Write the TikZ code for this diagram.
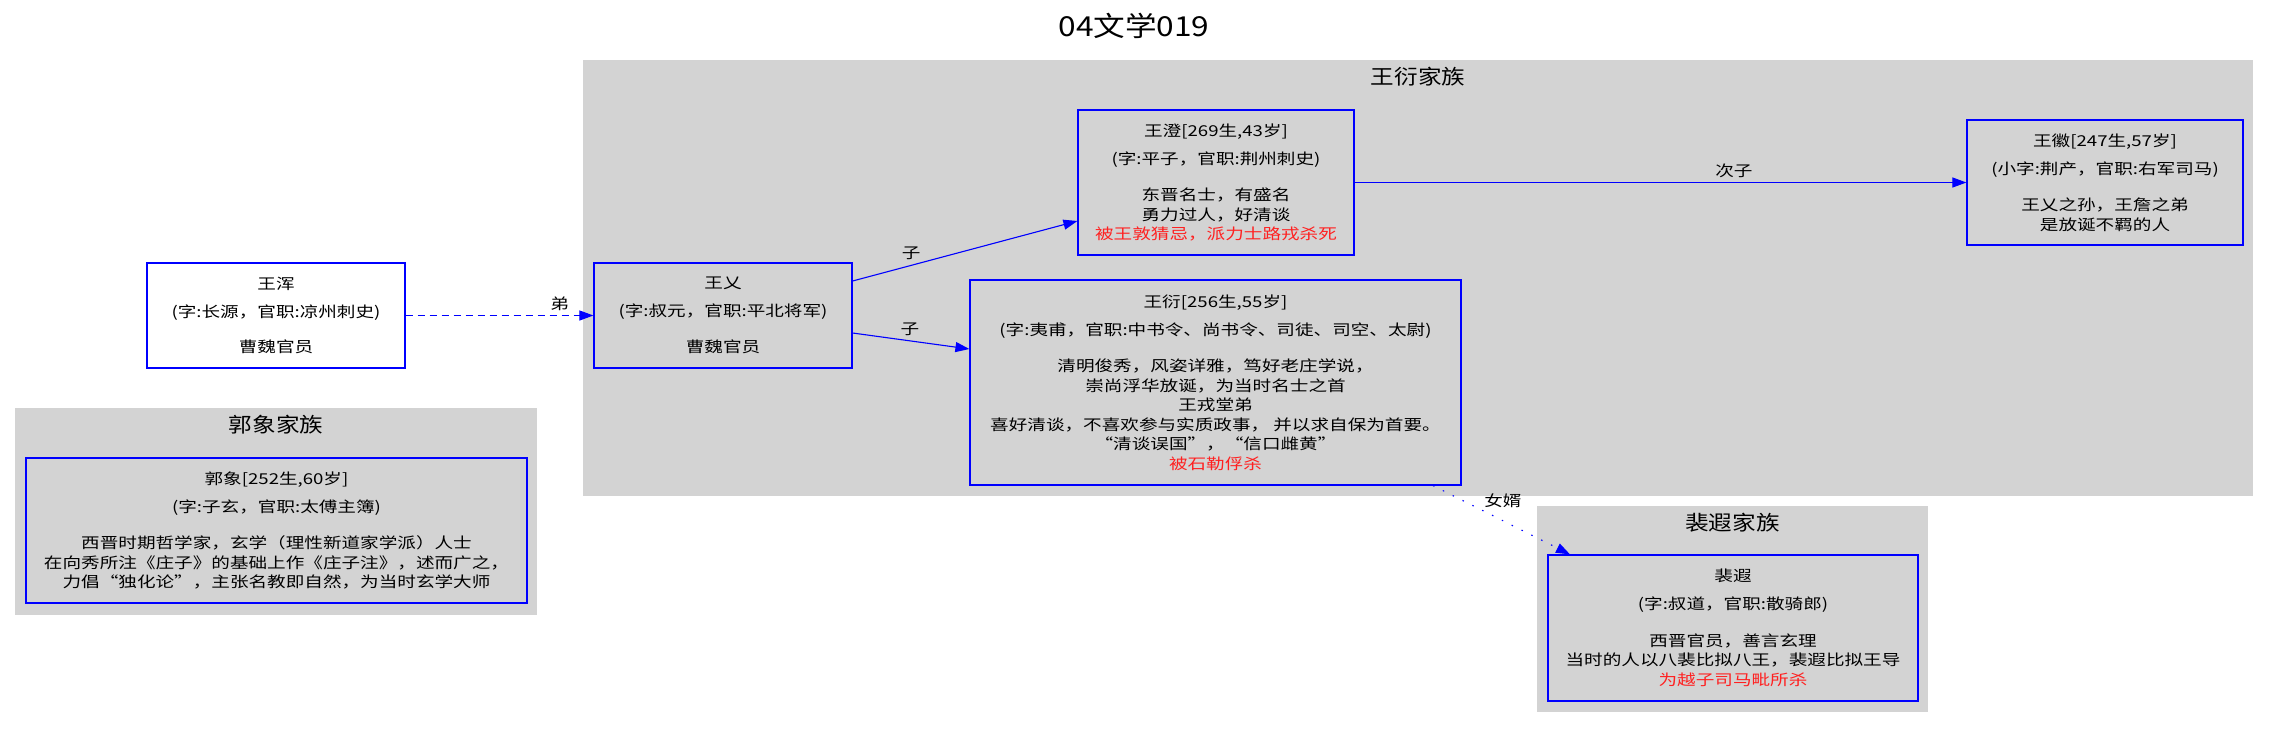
\documentclass[tikz,border=0pt]{standalone}
\usepackage{fontspec}
\usepackage{tikz}
\usetikzlibrary{positioning,arrows.meta}
\newfontfamily\cjk[FakeStretch=1.15]{Noto Sans CJK SC}
\newfontfamily\cjkbox[FakeStretch=1.24]{Noto Sans CJK SC}
\definecolor{clusterbg}{HTML}{D3D3D3}
\definecolor{edgeblue}{HTML}{0000FF}
\definecolor{deathred}{HTML}{FF2020}
\newcommand{\boxfont}{\cjkbox\fontsize{15}{19.5}\selectfont}
\newcommand{\dead}[1]{\textcolor{deathred}{#1}}
\tikzset{
  family/.style={fill=clusterbg, inner sep=0pt},
  familytitle/.style={font=\cjk\fontsize{20.5}{24}\selectfont, inner sep=0pt},
  person/.style={draw=edgeblue, line width=1.2pt, align=center, inner sep=0pt, font=\boxfont},
  rel/.style={draw=edgeblue, line width=1.1pt, -{Triangle[length=14pt,width=10pt]}},
  rellabel/.style={font=\boxfont, inner sep=1pt}
}
\begin{document}
\begin{tikzpicture}[x=1pt, y=-1pt]
  \useasboundingbox (0,0) rectangle (2269,728);

  \node[font=\cjk\fontsize{27.5}{32}\selectfont, inner sep=0pt] (title) at (1134,26) {04文学019};

  % family clusters
  \node[family, minimum width=1670pt, minimum height=436pt] (clwang) at (1418,278) {};
  \node[familytitle] (clwangt) at ([yshift=-17pt]clwang.north) {王衍家族};
  \node[family, minimum width=522pt, minimum height=207pt] (clguo) at (276,511.5) {};
  \node[familytitle] (clguot) at ([yshift=-17pt]clguo.north) {郭象家族};
  \node[family, minimum width=391pt, minimum height=206pt] (clpei) at (1732.5,609) {};
  \node[familytitle] (clpeit) at ([yshift=-17pt]clpei.north) {裴遐家族};

  % persons
  \node[person, fill=white, minimum width=258pt, minimum height=105pt] (wanghun) at (276,315.5)
    {王浑\\[8.5pt](字:长源，官职:凉州刺史)\\[15.5pt]曹魏官员};
  \node[person, minimum width=258pt, minimum height=105pt] (wangyi) at (723,315.5)
    {王乂\\[8.5pt](字:叔元，官职:平北将军)\\[16.5pt]曹魏官员};
  \node[person, minimum width=276pt, minimum height=145pt] (wangcheng) at (1216,182.5)
    {王澄[269生,43岁]\\[8.5pt](字:平子，官职:荆州刺史)\\[17pt]东晋名士，有盛名\\勇力过人，好清谈\\\dead{被王敦猜忌，派力士路戎杀死}};
  \node[person, minimum width=491pt, minimum height=205pt] (wangyan) at (1215.5,382.5)
    {王衍[256生,55岁]\\[8.5pt](字:夷甫，官职:中书令、尚书令、司徒、司空、太尉)\\[17pt]清明俊秀，风姿详雅，笃好老庄学说，\\崇尚浮华放诞，为当时名士之首\\王戎堂弟\\喜好清谈，不喜欢参与实质政事，\ 并以求自保为首要。\\“清谈误国”，“信口雌黄”\\\dead{被石勒俘杀}};
  \node[person, minimum width=276pt, minimum height=125pt] (wanghui) at (2105,182.5)
    {王徽[247生,57岁]\\[8.5pt](小字:荆产，官职:右军司马)\\[17pt]王乂之孙，王詹之弟\\是放诞不羁的人};
  \node[person, minimum width=501pt, minimum height=145pt] (guoxiang) at (276.5,530.5)
    {郭象[252生,60岁]\\[8.5pt](字:子玄，官职:太傅主簿)\\[17pt]西晋时期哲学家，玄学（理性新道家学派）人士\\在向秀所注《庄子》的基础上作《庄子注》，述而广之，\\力倡“独化论”，主张名教即自然，为当时玄学大师};
  \node[person, minimum width=370pt, minimum height=146pt] (peixia) at (1733,628)
    {裴遐\\[8.5pt](字:叔道，官职:散骑郎)\\[17pt]西晋官员，善言玄理\\当时的人以八裴比拟八王，裴遐比拟王导\\\dead{为越子司马毗所杀}};

  % relations
  \draw[rel, dash pattern=on 7pt off 5pt] (wanghun.east) -- (wangyi.west)
    node[rellabel, pos=0.82, above=3pt] (ldi) {弟};
  \draw[rel] ([yshift=34.5pt]wangyi.east) -- ([yshift=-38.5pt]wangcheng.west)
    node[rellabel, pos=0.26, above=4pt] (lzi1) {子};
  \draw[rel] ([yshift=-17.5pt]wangyi.east) -- ([yshift=33.5pt]wangyan.west)
    node[rellabel, pos=0.49, above=4pt] (lzi2) {子};
  \draw[rel] (wangcheng.east) -- (wanghui.west)
    node[rellabel, pos=0.62, above=3pt] (lcizi) {次子};
  \draw[rel, dash pattern=on 1.5pt off 9.5pt] ([xshift=217.5pt]wangyan.south) -- ([xshift=-163pt]peixia.north)
    node[rellabel, pos=0.51, above=11pt] (lnvxu) {女婿};
\end{tikzpicture}
\end{document}
